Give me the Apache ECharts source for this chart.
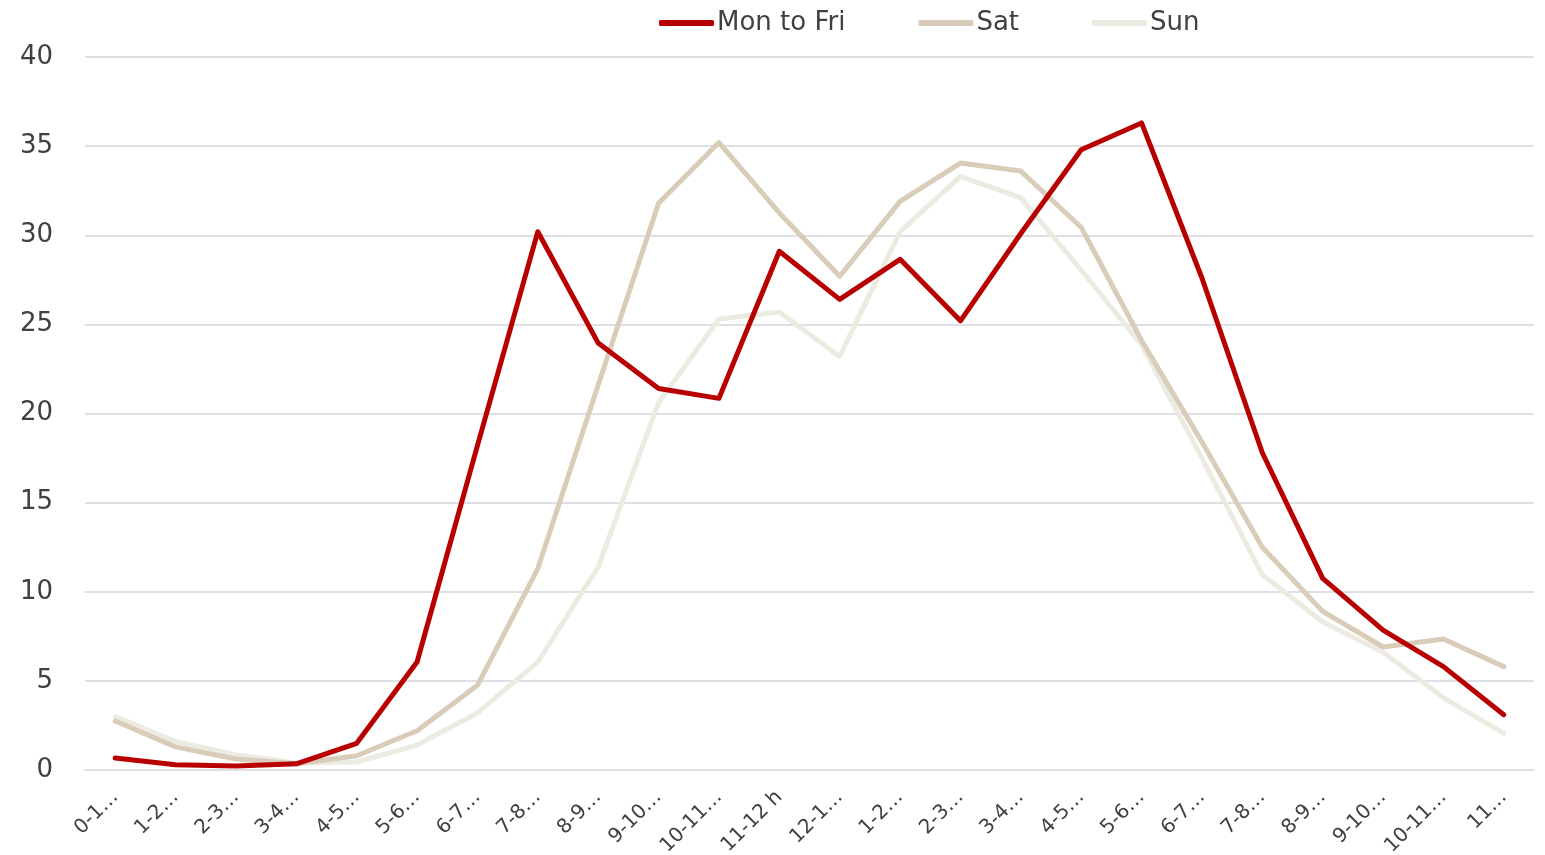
<!DOCTYPE html>
<html>
<head>
<meta charset="utf-8">
<script src="https://cdn.jsdelivr.net/npm/echarts@6/dist/echarts.min.js"></script>
<style>
    html, body { margin: 0; padding: 0; background: #fff; }
    #chart { width: 1545px; height: 855px; }
</style>
</head>
<body>
<div id="chart"></div>
<script>
var hours = ['0-1…', '1-2…', '2-3…', '3-4…', '4-5…', '5-6…', '6-7…', '7-8…', '8-9…', '9-10…', '10-11…', '11-12 h',
    '12-1…', '1-2…', '2-3…', '3-4…', '4-5…', '5-6…', '6-7…', '7-8…', '8-9…', '9-10…', '10-11…', '11…'];

var monToFri = [0.67, 0.3, 0.22, 0.35, 1.5, 6.06, 18.2, 30.2, 23.95, 21.4, 20.85, 29.1,
    26.4, 28.65, 25.2, 30.1, 34.8, 36.3, 27.6, 17.8, 10.75, 7.85, 5.8, 3.1];
var sat = [2.75, 1.3, 0.62, 0.35, 0.8, 2.2, 4.75, 11.3, 21.6, 31.8, 35.2, 31.25,
    27.7, 31.9, 34.05, 33.6, 30.45, 24.1, 18.4, 12.5, 8.9, 6.9, 7.35, 5.8];
var sun = [3.0, 1.6, 0.85, 0.4, 0.45, 1.4, 3.2, 6.05, 11.4, 20.6, 25.3, 25.7,
    23.2, 30.2, 33.3, 32.1, 28.05, 23.85, 17.5, 10.95, 8.3, 6.6, 4.05, 2.05];

var yTicks = { min: 0, max: 40, interval: 5 };

var font = '"DejaVu Sans", sans-serif';

function makeLine(name, data, color) {
    return {
        name: name,
        type: 'line',
        data: data,
        symbol: 'none',
        smooth: false,
        lineStyle: { color: color, width: 5, cap: 'round', join: 'round' },
        itemStyle: { color: color }
    };
}

var chart = echarts.init(document.getElementById('chart'));
chart.setOption({
    animation: false,
    textStyle: { fontFamily: font },
    legend: {
        top: 5,
        left: 654,
        icon: 'roundRect',
        itemWidth: 55,
        itemHeight: 6,
        itemGap: 73,
        textStyle: { fontSize: 26, color: '#404040', fontFamily: font, padding: [0, 0, 0, -2] },
        data: ['Mon to Fri', 'Sat', 'Sun']
    },
    grid: { left: 85, right: 11, top: 57, bottom: 85, containLabel: false, outerBoundsMode: 'none' },
    xAxis: {
        type: 'category',
        boundaryGap: true,
        data: hours,
        axisLine: { lineStyle: { color: '#dfe0e6', width: 2 } },
        axisTick: { show: false },
        axisLabel: { rotate: 45, fontSize: 20, color: '#404040', margin: 24, interval: 0 }
    },
    yAxis: {
        type: 'value',
        min: yTicks.min,
        max: yTicks.max,
        interval: yTicks.interval,
        axisLine: { show: false },
        axisTick: { show: false },
        splitLine: { lineStyle: { color: '#dfe0e6', width: 2 } },
        axisLabel: { fontSize: 26, color: '#404040', margin: 32 }
    },
    series: [
        makeLine('Sun', sun, '#ebebe1'),
        makeLine('Sat', sat, '#d9ccb8'),
        makeLine('Mon to Fri', monToFri, '#b80000')
    ]
});
</script>
</body>
</html>
